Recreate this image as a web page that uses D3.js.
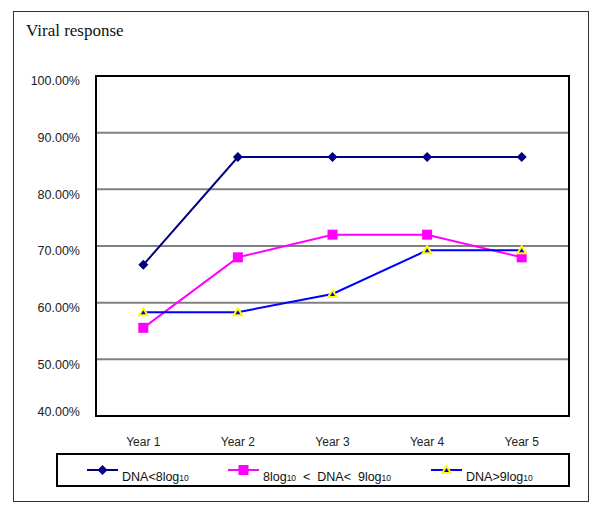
<!DOCTYPE html>
<html>
<head>
<meta charset="utf-8">
<script src="https://cdn.jsdelivr.net/npm/d3@7"></script>
<style>
  body { margin: 0; background: #fff; }
  text { font-family: Arial, "Liberation Sans", sans-serif; }
</style>
</head>
<body>
<script>
// chart data
const years = ["Year 1", "Year 2", "Year 3", "Year 4", "Year 5"];
const dnaLow = [66.67, 85.71, 85.71, 85.71, 85.71];
const dnaMid = [55.56, 68.0, 72.0, 72.0, 68.0];
const dnaHigh = [58.33, 58.33, 61.54, 69.23, 69.23];
const yTicks = [40, 50, 60, 70, 80, 90, 100];

const width = 600, height = 515;
const plot = { left: 96, top: 76, right: 569, bottom: 416 };

const svg = d3.select("body").append("svg")
  .attr("width", width)
  .attr("height", height);

// outer frame
svg.append("rect")
  .attr("x", 13.5).attr("y", 11.5)
  .attr("width", 575).attr("height", 490)
  .attr("fill", "none")
  .attr("stroke", "#333")
  .attr("stroke-width", 1);

svg.append("text")
  .attr("x", 26).attr("y", 36)
  .attr("font-family", "'Liberation Serif', 'Times New Roman', serif")
  .style("font-family", "'Liberation Serif', 'Times New Roman', serif")
  .attr("font-size", 17)
  .attr("fill", "#111")
  .text("Viral response");

const x = d3.scaleBand().domain(years).range([plot.left, plot.right]);
const y = d3.scaleLinear().domain([40, 100]).range([plot.bottom, plot.top]);

// gridlines
svg.append("g").selectAll("line")
  .data(yTicks.slice(1, -1))
  .enter().append("line")
  .attr("x1", plot.left).attr("x2", plot.right)
  .attr("y1", d => y(d)).attr("y2", d => y(d))
  .attr("stroke", "#808080")
  .attr("stroke-width", 2);

// plot border
svg.append("rect")
  .attr("x", plot.left).attr("y", plot.top)
  .attr("width", plot.right - plot.left)
  .attr("height", plot.bottom - plot.top)
  .attr("fill", "none")
  .attr("stroke", "#000")
  .attr("stroke-width", 2);

// y labels
svg.append("g").selectAll("text")
  .data(yTicks)
  .enter().append("text")
  .attr("x", 80)
  .attr("y", d => y(d) + (d === 40 ? -4 : 5))
  .attr("dy", "0.35em")
  .attr("text-anchor", "end")
  .attr("font-size", 12.5)
  .attr("fill", "#222")
  .text(d => d.toFixed(2) + "%");

// x labels
svg.append("g").selectAll("text")
  .data(years)
  .enter().append("text")
  .attr("x", d => x(d) + x.bandwidth() / 2)
  .attr("y", 446)
  .attr("text-anchor", "middle")
  .attr("font-size", 12)
  .attr("fill", "#222")
  .text(d => d);

const cx = i => x(years[i]) + x.bandwidth() / 2;
const line = d3.line().x((d, i) => cx(i)).y(d => y(d));

const series = [
  { values: dnaLow, color: "#000080", marker: "diamond" },
  { values: dnaMid, color: "#ff00ff", marker: "square" },
  { values: dnaHigh, color: "#0000ff", marker: "triangle" }
];

function drawMarker(g, type, px, py) {
  if (type === "diamond") {
    g.append("path")
      .attr("d", `M${px},${py - 5}L${px + 5},${py}L${px},${py + 5}L${px - 5},${py}Z`)
      .attr("fill", "#000080");
  } else if (type === "square") {
    g.append("rect")
      .attr("x", px - 5).attr("y", py - 5)
      .attr("width", 10).attr("height", 10)
      .attr("fill", "#ff00ff");
  } else {
    g.append("path")
      .attr("d", `M${px},${py - 6}L${px + 6},${py + 4}L${px - 6},${py + 4}Z`)
      .attr("fill", "#ffff00");
    g.append("path")
      .attr("d", `M${px},${py - 2}L${px + 2.5},${py + 2}L${px - 2.5},${py + 2}Z`)
      .attr("fill", "#0000ff");
  }
}

series.forEach(s => {
  svg.append("path")
    .datum(s.values)
    .attr("d", line)
    .attr("fill", "none")
    .attr("stroke", s.color)
    .attr("stroke-width", 2);
});
series.forEach(s => {
  const g = svg.append("g");
  s.values.forEach((v, i) => drawMarker(g, s.marker, cx(i), y(v)));
});

// legend
svg.append("rect")
  .attr("x", 57).attr("y", 454)
  .attr("width", 512).attr("height", 32)
  .attr("fill", "none")
  .attr("stroke", "#000")
  .attr("stroke-width", 2);

const legendItems = [
  { x: 87, tx: 122, parts: [["DNA<8log", 0], ["10", 1]] },
  { x: 228, tx: 263, parts: [["8log", 0], ["10", 1], ["  <  DNA<  9log", 0], ["10", 1]] },
  { x: 431, tx: 466, parts: [["DNA>9log", 0], ["10", 1]] }
];
legendItems.forEach((item, k) => {
  const s = series[k];
  const g = svg.append("g");
  g.append("line")
    .attr("x1", item.x).attr("x2", item.x + 31)
    .attr("y1", 470).attr("y2", 470)
    .attr("stroke", s.color)
    .attr("stroke-width", 2);
  drawMarker(g, s.marker, item.x + 15.5, 470);
  const t = g.append("text")
    .attr("x", item.tx).attr("y", 481)
    .attr("font-size", 12.5)
    .attr("fill", "#111")
    .attr("xml:space", "preserve")
    .style("white-space", "pre");
  item.parts.forEach(([str, sub]) => {
    t.append("tspan")
      .attr("font-size", sub ? 8.5 : 12.5)
      .text(str);
  });
});
</script>
</body>
</html>
